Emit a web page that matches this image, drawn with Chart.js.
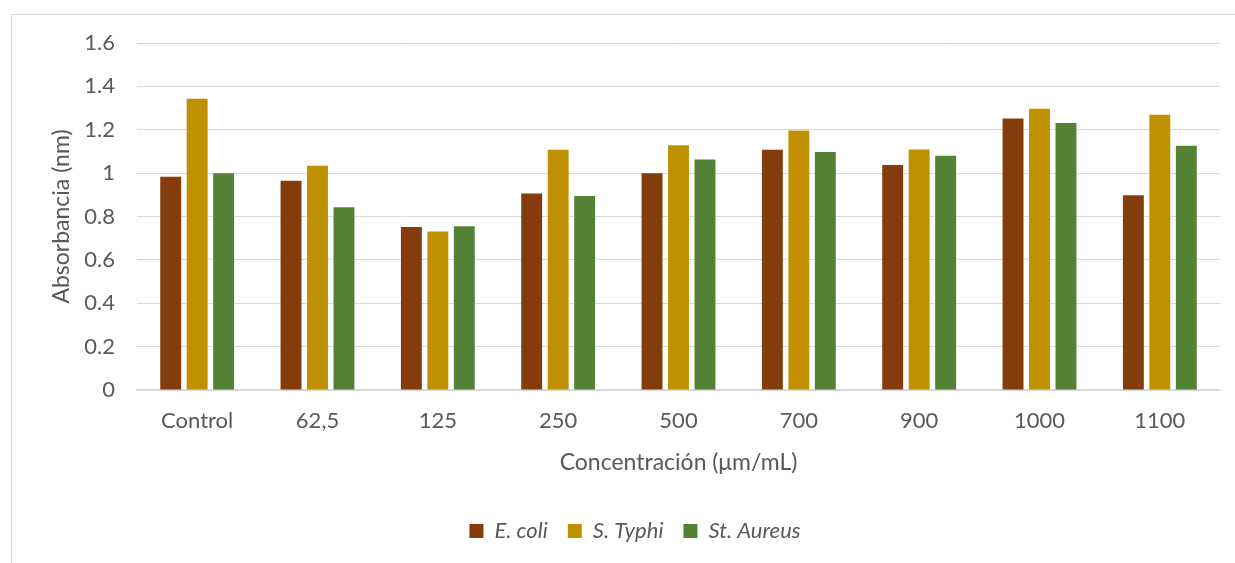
<!DOCTYPE html>
<html>
<head>
<meta charset="utf-8">
<script src="https://cdn.jsdelivr.net/npm/chart.js@4"></script>
<style>
  html, body { margin: 0; padding: 0; background: #fff; overflow: hidden; }
  #frame {
    position: absolute; left: 11px; top: 14px;
    width: 1230px; height: 600px;
    border: 1px solid #d9d9d9;
  }
  #box { position: absolute; left: 0; top: 0; width: 1222px; height: 548px; }
</style>
</head>
<body>
<div id="frame"><div id="box"><canvas id="myChart"></canvas></div></div>
<script>
const labels = ['Control', '62,5', '125', '250', '500', '700', '900', '1000', '1100'];
const eColi = [0.983, 0.965, 0.752, 0.906, 1.0, 1.108, 1.037, 1.252, 0.898];
const sTyphi = [1.343, 1.034, 0.731, 1.108, 1.128, 1.197, 1.109, 1.297, 1.269];
const stAureus = [1.0, 0.843, 0.755, 0.895, 1.063, 1.097, 1.08, 1.231, 1.126];
const yTickLabels = ['0', '0.2', '0.4', '0.6', '0.8', '1', '1.2', '1.4', '1.6'];

const textColor = '#595959';
const gridColor = '#d9d9d9';

const ctx = document.getElementById('myChart').getContext('2d');

const data = {
  labels,
  datasets: [
    { label: 'E. coli', data: eColi, backgroundColor: '#843c0c' },
    { label: 'S. Typhi', data: sTyphi, backgroundColor: '#bf9000' },
    { label: 'St. Aureus', data: stAureus, backgroundColor: '#548235' },
  ],
};

// nudge the legend a bit to the right, like the original
const legendShift = {
  id: 'legendShift',
  afterLayout(chart) {
    chart.legend.left += 19;
    chart.legend.right += 19;
  },
};

const config = {
  type: 'bar',
  data: data,
  options: {
    responsive: true,
    maintainAspectRatio: false,
    animation: false,
    datasets: {
      bar: { barPercentage: 0.79, categoryPercentage: 0.66 },
    },
    layout: {
      padding: { top: 28, right: 14, bottom: 11, left: 0 },
    },
    scales: {
      x: {
        grid: { display: false },
        border: { display: true, color: gridColor, width: 2 },
        ticks: {
          color: textColor,
          font: { family: 'Lato', size: 22 },
          padding: 10,
        },
        title: {
          display: true,
          text: 'Concentración (μm/mL)',
          color: textColor,
          font: { family: 'Lato', size: 23 },
          padding: { top: 0, bottom: 24 },
        },
        afterFit: (scale) => { scale.height = 110; },
      },
      y: {
        min: 0,
        max: 1.6,
        // invisible tick marks make the gap between labels and plot
        grid: { color: gridColor, lineWidth: 1, tickLength: 19, tickColor: 'rgba(0,0,0,0)' },
        border: { display: false },
        ticks: {
          stepSize: 0.2,
          color: textColor,
          font: { family: 'Lato', size: 22 },
          padding: 3,
          callback: (v, i) => yTickLabels[i],
        },
        title: {
          display: true,
          text: 'Absorbancia (nm)',
          color: textColor,
          font: { family: 'Lato', size: 23 },
          padding: { top: 36, bottom: 0 },
        },
        afterFit: (scale) => { scale.width = 125; },
      },
    },
    plugins: {
      legend: {
        position: 'bottom',
        labels: {
          color: textColor,
          boxWidth: 14,
          boxHeight: 14,
          padding: 20,
          font: { family: 'Lato', size: 22, style: 'italic' },
        },
      },
      tooltip: { enabled: false },
    },
  },
  plugins: [legendShift],
};

const myChart = new Chart(ctx, config);
</script>
</body>
</html>
